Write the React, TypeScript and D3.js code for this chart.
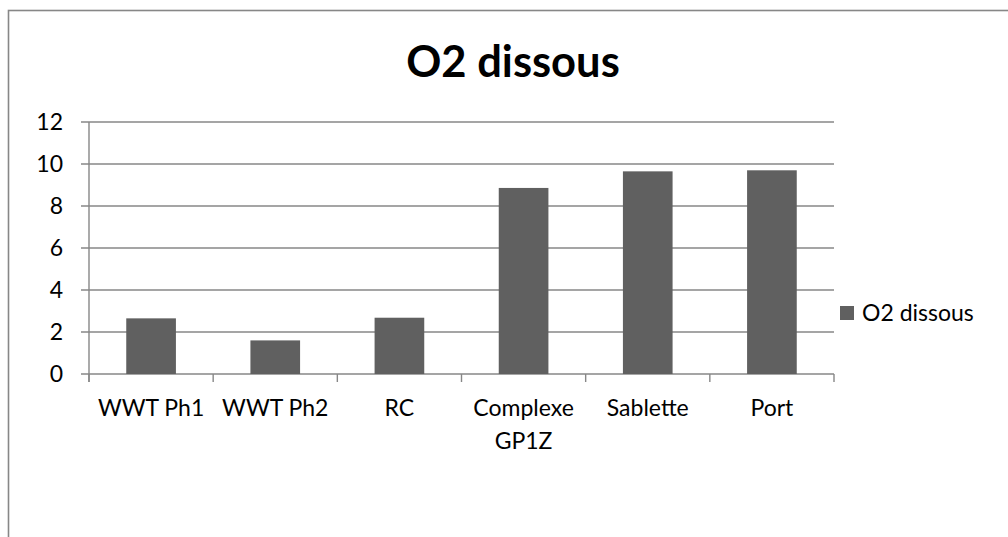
import React from "react";
import * as d3 from "d3";

const categories: string[][] = [
  ["WWT Ph1"],
  ["WWT Ph2"],
  ["RC"],
  ["Complexe", "GP1Z"],
  ["Sablette"],
  ["Port"],
];
const o2Values: number[] = [2.65, 1.6, 2.68, 8.86, 9.65, 9.7];
const yTicks: number[] = [0, 2, 4, 6, 8, 10, 12];
const seriesName = "O2 dissous";
const chartTitle = "O2 dissous";

const W = 1008;
const H = 537;
const plot = { left: 89, right: 834, top: 122, bottom: 374 };
const FONT = "Lato, 'Open Sans', sans-serif";
const GRID = "#878787";
const BAR = "#606060";

export default function App() {
  const keys = categories.map((c) => c.join(" "));
  const x = d3
    .scaleBand<string>()
    .domain(keys)
    .range([plot.left, plot.right])
    .paddingInner(0.6)
    .paddingOuter(0.3);
  const y = d3.scaleLinear().domain([0, 12]).range([plot.bottom, plot.top]);
  const step = x.step();
  const boundaries = d3.range(keys.length + 1).map((i) => plot.left + i * step);

  return (
    <svg
      width={W}
      height={H}
      style={{ position: "absolute", left: 0, top: 0, display: "block" }}
    >
      <rect x={0} y={0} width={W} height={H} fill="#fff" />
      {/* chart frame */}
      <rect
        x={8.5}
        y={10.5}
        width={W + 20}
        height={H + 20}
        fill="none"
        stroke={GRID}
        strokeWidth={1.6}
      />
      <text
        x={513}
        y={77}
        textAnchor="middle"
        fontFamily={FONT}
        fontWeight={700}
        fontSize={43.5}
        fill="#000"
      >
        {chartTitle}
      </text>

      {/* horizontal gridlines and y ticks */}
      {yTicks.map((t) => (
        <g key={t}>
          <line
            x1={plot.left - 8}
            x2={plot.right}
            y1={y(t)}
            y2={y(t)}
            stroke={GRID}
            strokeWidth={1.4}
          />
          <text
            x={63}
            y={y(t)}
            dy="0.35em"
            textAnchor="end"
            fontFamily={FONT}
            fontSize={23}
            fill="#000"
          >
            {t}
          </text>
        </g>
      ))}

      {/* bars */}
      {keys.map((k, i) => (
        <rect
          key={k}
          x={x(k)}
          y={y(o2Values[i])}
          width={x.bandwidth()}
          height={y(0) - y(o2Values[i])}
          fill={BAR}
        />
      ))}

      {/* axes */}
      <line
        x1={plot.left}
        x2={plot.left}
        y1={plot.top}
        y2={plot.bottom + 8}
        stroke={GRID}
        strokeWidth={1.4}
      />
      {boundaries.map((bx, i) => (
        <line
          key={i}
          x1={bx}
          x2={bx}
          y1={plot.bottom}
          y2={plot.bottom + 8}
          stroke={GRID}
          strokeWidth={1.4}
        />
      ))}

      {/* category labels */}
      {categories.map((lines, i) => (
        <text
          key={keys[i]}
          x={(x(keys[i]) as number) + x.bandwidth() / 2}
          y={416}
          textAnchor="middle"
          fontFamily={FONT}
          fontSize={23}
          fill="#000"
        >
          {lines.map((ln, j) => (
            <tspan key={j} x={(x(keys[i]) as number) + x.bandwidth() / 2} dy={j === 0 ? 0 : 33}>
              {ln}
            </tspan>
          ))}
        </text>
      ))}

      {/* legend */}
      <rect x={840} y={306} width={14} height={14} fill={BAR} />
      <text x={862} y={321} fontFamily={FONT} fontSize={23} fill="#000">
        {seriesName}
      </text>
    </svg>
  );
}
